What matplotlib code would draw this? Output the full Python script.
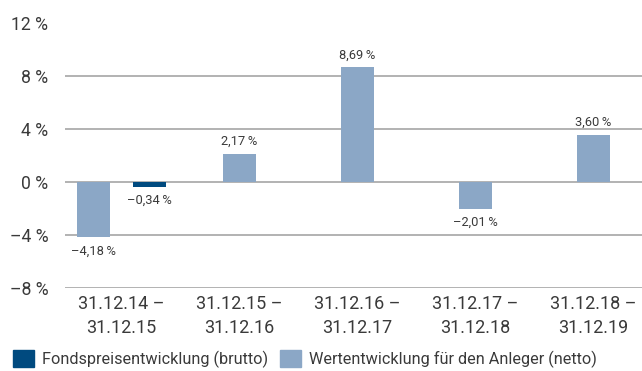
import matplotlib
matplotlib.use("Agg")
import matplotlib.pyplot as plt
import numpy as np
from matplotlib.patches import Patch

# Zeitraeume und Wertentwicklung in %
perioden = ["31.12.14 –\n31.12.15", "31.12.15 –\n31.12.16", "31.12.16 –\n31.12.17",
            "31.12.17 –\n31.12.18", "31.12.18 –\n31.12.19"]
brutto = [-0.34]          # nur fuer den ersten Zeitraum vorhanden
netto = [-4.18, 2.17, 8.69, -2.01, 3.60]
y_ticks = [-8, -4, 0, 4, 8, 12]

DUNKEL = "#004a7f"
HELL = "#8ba7c6"
TEXT = "#3a3a3a"

plt.rcParams['font.family'] = ['Roboto', 'DejaVu Sans']


def fmt(v):
    s = ("%.2f" % abs(v)).replace(".", ",")
    return ("–" if v < 0 else "") + s + "\u2009%"


fig = plt.figure(figsize=(6.42, 3.71), dpi=100)
ax = fig.add_axes([65 / 642, 83 / 371, 1 - 65 / 642, (288 - 23.5) / 371])

x = np.arange(len(perioden))
breite = 0.28
versatz = 0.237

# Position der hellen Balken: im ersten Zeitraum neben dem dunklen Balken
x_netto = x.astype(float).copy()
x_netto[:len(brutto)] -= versatz
x_brutto = x[:len(brutto)] + versatz

ax.bar(x_netto, netto, width=breite, color=HELL, zorder=3)
ax.bar(x_brutto, brutto, width=breite, color=DUNKEL, zorder=3)

for xi, v in list(zip(x_netto, netto)) + list(zip(x_brutto, brutto)):
    off = 4 if v >= 0 else -5
    ax.annotate(fmt(v), (xi, v), xytext=(0, off), textcoords="offset points",
                ha="center", va="bottom" if v >= 0 else "top",
                fontsize=9.3, color=TEXT)

ax.set_ylim(-8, 12)
ax.set_xlim(-0.479, 4.41)
ax.set_yticks(y_ticks)
ax.set_yticklabels([("–" if t < 0 else "") + "%d %%" % abs(t) for t in y_ticks],
                   fontsize=12.7, color=TEXT)
ax.set_xticks(x)
ax.set_xticklabels(perioden, fontsize=13, color=TEXT, linespacing=1.45)
ax.tick_params(axis="both", length=0)
ax.tick_params(axis="y", pad=12)
ax.tick_params(axis="x", pad=5)
ax.yaxis.grid(True, color="#a6a6a6", linewidth=1.2, zorder=0)
for s in ax.spines.values():
    s.set_visible(False)

handles = [Patch(color=DUNKEL, label="Fondspreisentwicklung (brutto)"),
           Patch(color=HELL, label="Wertentwicklung für den Anleger (netto)")]
leg = fig.legend(handles=handles, loc="lower left", bbox_to_anchor=(0.005, -0.018),
                 ncol=2, frameon=False, fontsize=11.7, handlelength=1.3,
                 handleheight=1.25, handletextpad=0.5, columnspacing=0.7,
                 borderaxespad=0.2)
for t in leg.get_texts():
    t.set_color(TEXT)

fig.savefig("out.png", dpi=100)
